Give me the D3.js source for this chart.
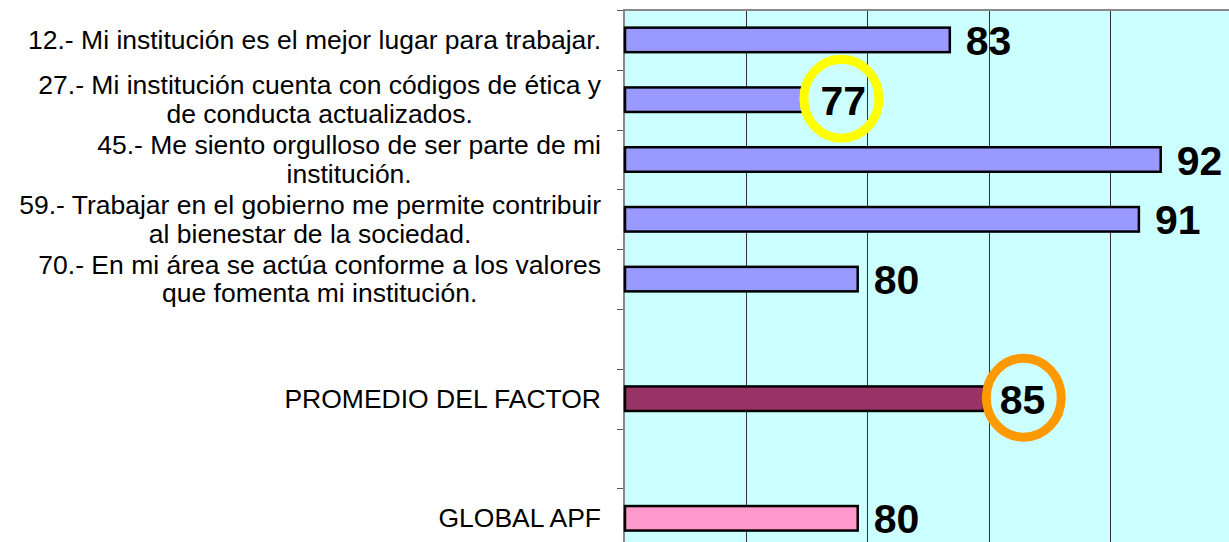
<!DOCTYPE html>
<html>
<head>
<meta charset="utf-8">
<script src="https://cdn.jsdelivr.net/npm/d3@7"></script>
<style>
  body { margin: 0; background: #fff; }
  svg { display: block; font-family: "Liberation Sans", Arial, sans-serif; }
</style>
</head>
<body>
<svg width="1229" height="542"></svg>
<script>
// survey items, scores are the unrounded values behind the labels
var questions = [
  "12.- Mi institución es el mejor lugar para trabajar.",
  "27.- Mi institución cuenta con códigos de ética y\nde conducta actualizados.",
  "45.- Me siento orgulloso de ser parte de mi\ninstitución.",
  "59.- Trabajar en el gobierno me permite contribuir\nal bienestar de la sociedad.",
  "70.- En mi área se actúa conforme a los valores\nque fomenta mi institución."
];
var questionScores = [83.4, 77.4, 92.1, 91.2, 79.6];

var factorLabel = "PROMEDIO DEL FACTOR";
var factorScore = 84.8;
var globalLabel = "GLOBAL APF";
var globalScore = 79.6;

var xDomain = [70, 95];
var xTicks = [75, 80, 85, 90];

var svg = d3.select("svg"),
  width = +svg.attr("width"),
  height = +svg.attr("height");

var rows = questions.map(function(q, i) {
  return { key: "q" + i, label: q, value: questionScores[i], fill: "#9999ff", ring: i === 1 ? "#ffff00" : null };
});
rows.push({ key: "factor", label: factorLabel, value: factorScore, fill: "#993366", ring: "#ff9900" });
rows.push({ key: "global", label: globalLabel, value: globalScore, fill: "#ff99cc", ring: null });

var domain = rows.slice(0, 5).map(function(d) { return d.key; })
  .concat(["gap1", "factor", "gap2", "global"]);

var x = d3.scaleLinear().domain(xDomain).range([625, 1231]);
var y = d3.scaleBand().domain(domain).range([10, 10 + 9 * 59.8]).paddingInner(0.59).paddingOuter(0.295);

// plot background
svg.append("rect")
  .attr("x", x(xDomain[0])).attr("y", 10)
  .attr("width", x(xDomain[1]) - x(xDomain[0]))
  .attr("height", 9 * 59.8)
  .attr("fill", "#ccffff");

// gridlines
svg.append("g")
  .selectAll("line")
  .data(xTicks)
  .enter().append("line")
  .attr("x1", function(d) { return Math.round(x(d)) + 0.5; })
  .attr("x2", function(d) { return Math.round(x(d)) + 0.5; })
  .attr("y1", 10).attr("y2", height)
  .attr("stroke", "#333")
  .attr("stroke-width", 1);

// top border
svg.append("line")
  .attr("x1", x(xDomain[0])).attr("x2", width)
  .attr("y1", 10).attr("y2", 10)
  .attr("stroke", "#888").attr("stroke-width", 2);

// category axis with ticks at band boundaries
var bounds = d3.range(10).map(function(i) { return 10 + i * 59.8; });
svg.append("g")
  .selectAll("line")
  .data(bounds)
  .enter().append("line")
  .attr("x1", 617).attr("x2", 625)
  .attr("y1", function(d) { return Math.round(d) + 0.5; })
  .attr("y2", function(d) { return Math.round(d) + 0.5; })
  .attr("stroke", "#555").attr("stroke-width", 1);

svg.append("line")
  .attr("x1", 624).attr("x2", 624)
  .attr("y1", 9).attr("y2", height)
  .attr("stroke", "#888").attr("stroke-width", 2);

// bars
svg.append("g")
  .selectAll("rect")
  .data(rows)
  .enter().append("rect")
  .attr("x", x(xDomain[0]))
  .attr("y", function(d) { return y(d.key); })
  .attr("width", function(d) { return x(d.value) - x(xDomain[0]); })
  .attr("height", y.bandwidth())
  .attr("fill", function(d) { return d.fill; })
  .attr("stroke", "#000")
  .attr("stroke-width", 2.5);

// highlight rings
svg.append("g")
  .selectAll("ellipse")
  .data(rows.filter(function(d) { return d.ring; }))
  .enter().append("ellipse")
  .attr("cx", function(d) { return x(d.value) + 16 + 21 + (d.key === "factor" ? 3 : 0); })
  .attr("cy", function(d) { return y(d.key) + y.bandwidth() / 2 - 1; })
  .attr("rx", 37.5)
  .attr("ry", 39.5)
  .attr("fill", "none")
  .attr("stroke", function(d) { return d.ring; })
  .attr("stroke-width", 9);

// value labels
svg.append("g")
  .selectAll("text")
  .data(rows)
  .enter().append("text")
  .attr("x", function(d) { return x(d.value) + 16; })
  .attr("y", function(d) { return y(d.key) + y.bandwidth() / 2 + 15; })
  .style("font-size", "41px")
  .style("font-weight", "bold")
  .text(function(d) { return d3.format(".0f")(d.value); });

// category labels: block right-aligned, lines centred within it
var lineH = 28.5;
var labels = svg.append("g")
  .selectAll("g")
  .data(rows)
  .enter().append("g")
  .style("font-size", "26.5px")
  .attr("fill", "#000");

labels.each(function(d) {
  var g = d3.select(this),
    lines = d.label.split("\n"),
    cy = y(d.key) + y.bandwidth() / 2;
  var texts = lines.map(function(line, i) {
    return g.append("text")
      .attr("y", cy + (i - (lines.length - 1) / 2) * lineH + 9)
      .text(line);
  });
  var maxW = d3.max(texts, function(t) { return t.node().getComputedTextLength(); });
  texts.forEach(function(t) {
    t.attr("x", 601 - maxW / 2).attr("text-anchor", "middle");
  });
});
</script>
</body>
</html>
